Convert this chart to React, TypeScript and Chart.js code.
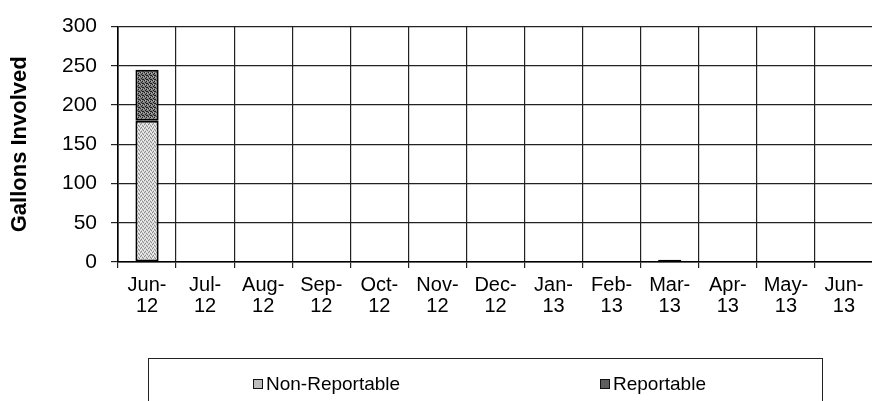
import React, { useEffect, useRef } from "react";
import { Chart, registerables } from "chart.js";

Chart.register(...registerables);

const categories: string[][] = [
  ["Jun-", "12"], ["Jul-", "12"], ["Aug-", "12"], ["Sep-", "12"], ["Oct-", "12"],
  ["Nov-", "12"], ["Dec-", "12"], ["Jan-", "13"], ["Feb-", "13"], ["Mar-", "13"],
  ["Apr-", "13"], ["May-", "13"], ["Jun-", "13"],
];
const seriesNames = ["Non-Reportable", "Reportable"];
const nonReportable = [180, 0, 0, 0, 0, 0, 0, 0, 0, 3, 0, 0, 0];
const reportable = [65, 0, 0, 0, 0, 0, 0, 0, 0, 0, 0, 0, 0];
const yTicks = [0, 50, 100, 150, 200, 250, 300];

const FONT = "'Liberation Sans', Arial, sans-serif";

function makePattern(base: string, dot: string, dots: number[][], dot2: string, dots2: number[][]): CanvasPattern | string {
  const c = document.createElement("canvas");
  c.width = 4;
  c.height = 4;
  const g = c.getContext("2d");
  if (!g) return base;
  g.fillStyle = base;
  g.fillRect(0, 0, 4, 4);
  g.fillStyle = dot;
  dots.forEach(([x, y]) => g.fillRect(x, y, 1, 1));
  g.fillStyle = dot2;
  dots2.forEach(([x, y]) => g.fillRect(x, y, 1, 1));
  const p = g.createPattern(c, "repeat");
  return p || base;
}

export default function App() {
  const ref = useRef<HTMLCanvasElement | null>(null);

  useEffect(() => {
    if (!ref.current) return;
    const lightPat = makePattern("#cfcfcf", "#8a8a8a", [[0, 0], [2, 1], [1, 3], [3, 2]], "#f4f4f4", [[1, 1], [3, 0], [0, 2], [2, 3]]);
    const darkPat = makePattern("#7c7c7c", "#1e1e1e", [[0, 0], [2, 1], [1, 2], [3, 3], [2, 3]], "#b0b0b0", [[1, 0], [3, 1]]);
    const bw = (c: any) => (c.raw ? 2 : 0);
    const chart = new Chart(ref.current, {
      type: "bar",
      data: {
        labels: categories,
        datasets: [
          {
            label: seriesNames[0],
            data: nonReportable,
            backgroundColor: lightPat as any,
            borderColor: "#000",
            borderWidth: bw as any,
            borderSkipped: false,
            barPercentage: 0.4,
            categoryPercentage: 1,
          },
          {
            label: seriesNames[1],
            data: reportable,
            backgroundColor: darkPat as any,
            borderColor: "#000",
            borderWidth: bw as any,
            borderSkipped: false,
            barPercentage: 0.4,
            categoryPercentage: 1,
          },
        ],
      },
      options: {
        responsive: false,
        animation: false,
        layout: { padding: { top: 20, left: 0, right: 7, bottom: 0 } },
        plugins: { legend: { display: false }, tooltip: { enabled: false } },
        scales: {
          x: {
            stacked: true,
            afterFit: (s: any) => { s.height = 139; },
            grid: { color: "#222", lineWidth: 1.2, tickLength: 6, offset: true },
            border: { color: "#000", width: 1.6 },
            ticks: {
              color: "#000",
              font: { family: FONT, size: 20, lineHeight: 1.05 },
              padding: 7,
              maxRotation: 0,
              autoSkip: false,
            },
          },
          y: {
            stacked: true,
            min: 0,
            max: 300,
            afterFit: (s: any) => { s.width = 118; },
            afterBuildTicks: (s: any) => { s.ticks = yTicks.map((v) => ({ value: v })); },
            grid: { color: "#222", lineWidth: 1.2, tickLength: 7 },
            border: { color: "#000", width: 1.6 },
            ticks: {
              color: "#000",
              font: { family: FONT, size: 21 },
              padding: 14,
            },
            title: {
              display: true,
              text: "Gallons Involved",
              color: "#000",
              font: { family: FONT, size: 22, weight: "bold" },
              padding: { top: 7, bottom: 0 },
            },
          },
        },
      },
    });
    return () => chart.destroy();
  }, []);

  const legendColors = ["#bdbdbd", "#5e5e5e"];
  const legendLeft = [253, 600];

  return (
    <div
      style={{
        position: "fixed",
        left: 0,
        top: 0,
        width: 872,
        height: 401,
        overflow: "hidden",
        background: "#fff",
      }}
    >
      <canvas ref={ref} width={880} height={401} style={{ position: "absolute", left: 0, top: 0 }} />
      <div
        style={{
          position: "absolute",
          left: 148,
          top: 358,
          width: 673,
          height: 80,
          border: "1px solid #222",
          fontFamily: FONT,
          fontSize: 19,
          color: "#000",
        }}
      >
        {seriesNames.map((name, i) => (
          <div
            key={name}
            style={{
              position: "absolute",
              left: legendLeft[i] - 149,
              top: 15,
              display: "flex",
              alignItems: "center",
              whiteSpace: "nowrap",
              lineHeight: "20px",
            }}
          >
            <span
              style={{
                display: "inline-block",
                width: 8,
                height: 8,
                border: "1px solid #111",
                background: legendColors[i],
                marginRight: 3,
              }}
            />
            <span>{name}</span>
          </div>
        ))}
      </div>
    </div>
  );
}
